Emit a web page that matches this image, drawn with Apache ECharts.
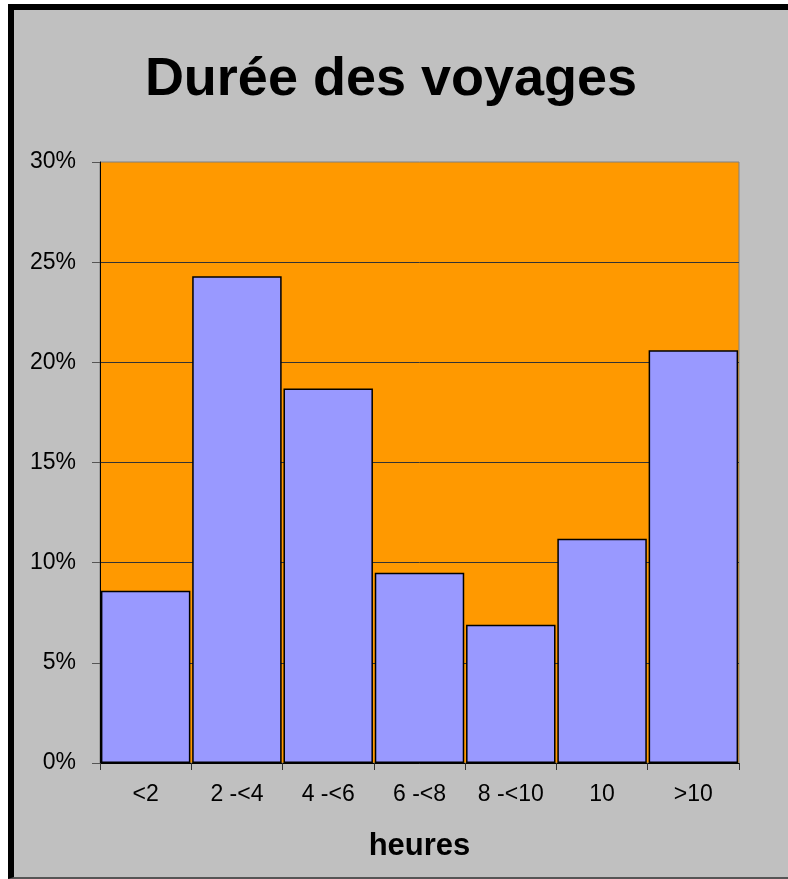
<!DOCTYPE html>
<html>
<head>
<meta charset="utf-8">
<title>Durée des voyages</title>
<script src="https://cdn.jsdelivr.net/npm/echarts@6/dist/echarts.min.js"></script>
<style>
    html, body { margin: 0; padding: 0; background: #ffffff; }
    /* cadre gris avec bord noir à gauche et en haut */
    .frame {
        position: absolute; left: 8px; top: 4px; width: 780px; height: 875px;
        box-sizing: border-box; background: #c0c0c0;
        border-left: 6px solid #000; border-top: 6px solid #000; border-bottom: 2px solid #555;
    }
    #chart { position: absolute; left: 0; top: 0; width: 788px; height: 879px; }
</style>
</head>
<body>
<div class="frame"></div>
<div id="chart"></div>
<script>
// données
var categories = ["<2", "2 -<4", "4 -<6", "6 -<8", "8 -<10", "10", ">10"];
var values = [8.6, 24.3, 18.7, 9.5, 6.9, 11.2, 20.6];
var yTicks = [0, 5, 10, 15, 20, 25, 30];

var chart = echarts.init(document.getElementById("chart"));

var option = {
    backgroundColor: "transparent",
    animation: false,
    title: {
        text: "Durée des voyages",
        left: 386,
        top: 48,
        textAlign: "center",
        textStyle: {
            fontFamily: "Liberation Sans",
            fontWeight: "bold",
            fontSize: 54,
            color: "#000"
        }
    },
    grid: {
        left: 100,
        right: 49,
        top: 162,
        bottom: 116,
        show: true,
        backgroundColor: "#ff9900",
        borderColor: "#808080",
        borderWidth: 1
    },
    xAxis: {
        type: "category",
        data: categories,
        name: "heures",
        nameLocation: "middle",
        nameGap: 68,
        nameTextStyle: {
            fontFamily: "Liberation Sans",
            fontWeight: "bold",
            fontSize: 31,
            color: "#000"
        },
        axisLine: { lineStyle: { color: "#000", width: 1 } },
        axisTick: { show: true, length: 7, lineStyle: { color: "#333" } },
        axisLabel: {
            margin: 20,
            fontFamily: "Liberation Sans",
            fontSize: 23,
            color: "#000"
        }
    },
    yAxis: {
        type: "value",
        min: yTicks[0],
        max: yTicks[yTicks.length - 1],
        interval: 5,
        axisLine: { show: true, lineStyle: { color: "#000", width: 1 } },
        axisTick: { show: true, length: 8, lineStyle: { color: "#555" } },
        axisLabel: {
            margin: 24,
            fontFamily: "Liberation Sans",
            fontSize: 23,
            color: "#000",
            formatter: "{value}%"
        },
        splitLine: {
            show: true,
            showMaxLine: false,
            lineStyle: { color: "#333", width: 1 }
        }
    },
    series: [
        {
            type: "bar",
            data: values,
            barCategoryGap: "2%",
            itemStyle: {
                color: "#9999ff",
                borderColor: "#000",
                borderWidth: 1.5
            }
        }
    ]
};

chart.setOption(option);
</script>
</body>
</html>
